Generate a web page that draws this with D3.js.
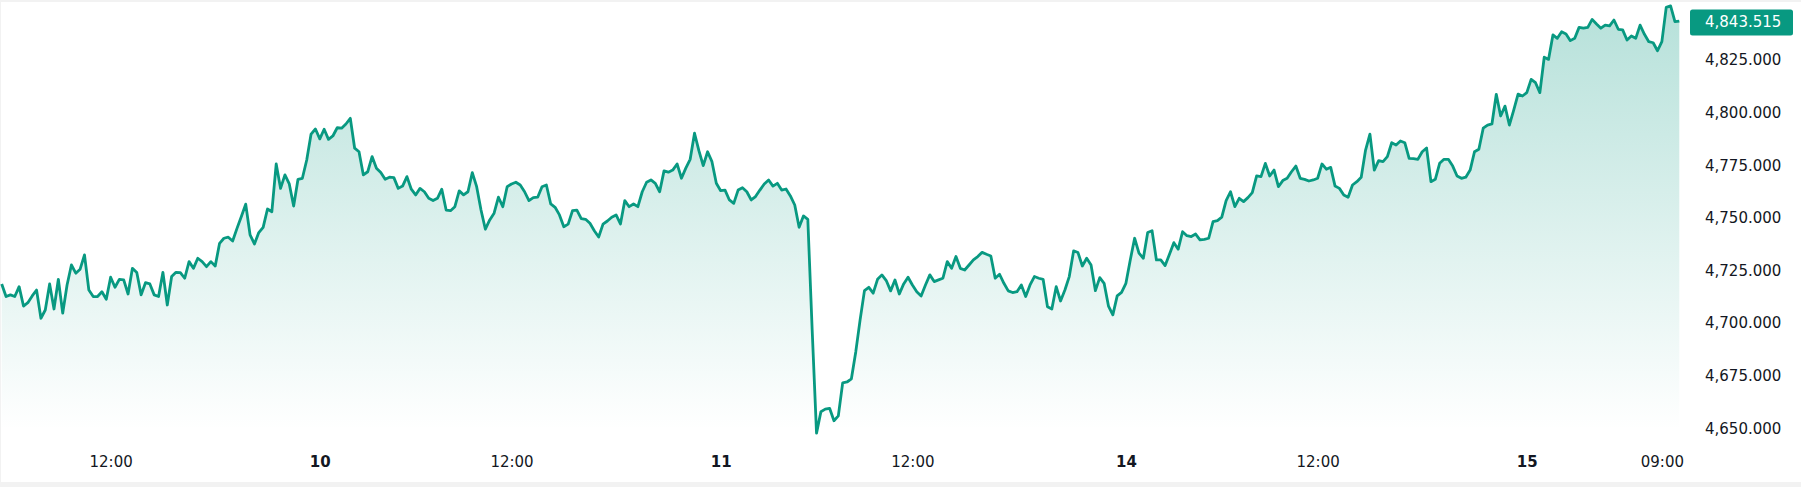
<!DOCTYPE html>
<html>
<head>
<meta charset="utf-8">
<script src="https://cdn.jsdelivr.net/npm/d3@7"></script>
<style>
    body { margin: 0; background: #f2f2f2; }
    svg { display: block; }
</style>
</head>
<body>
<div id="chart"></div>
<script>
// index level, one value per bar
var values = [
    // 9th (afternoon part)
    4718.6, 4712.6, 4713.4, 4712.6, 4717.3, 4708.1, 4709.7, 4712.9, 4715.7, 4702.3, 4706.2, 4718.6,
    4706.7, 4720.8, 4704.7, 4718.1, 4727.6, 4723.7, 4725.6, 4732.4, 4715.7, 4712.6, 4712.6, 4714.9,
    4711.3, 4721.8, 4717.0, 4720.8, 4720.5, 4713.8, 4726.0, 4724.0, 4713.4, 4719.2, 4718.6, 4713.4,
    4712.6, 4724.1, 4708.6, 4722.1, 4724.1, 4724.0, 4721.3, 4729.2, 4726.0, 4730.8, 4729.2, 4726.8,
    4729.2, 4727.1, 4737.9, 4740.3, 4740.8, 4739.0, 4745.0, 4750.6, 4756.5, 4741.9, 4737.6, 4743.0,
    4745.5, 4754.2, 4752.9, 4775.6, 4764.0, 4770.4, 4766.1, 4755.6, 4768.3, 4768.8, 4777.5, 4789.8,
    // 10th
    4792.2, 4787.5, 4792.1, 4787.3, 4788.9, 4792.8, 4792.6, 4794.6, 4797.3, 4783.1, 4781.4, 4770.4,
    4771.9, 4779.1, 4773.6, 4771.5, 4768.3, 4769.3, 4769.1, 4764.0, 4765.1, 4769.6, 4763.6, 4760.9,
    4764.0, 4762.4, 4759.3, 4758.2, 4759.3, 4763.6, 4753.7, 4753.4, 4755.3, 4762.8, 4760.9, 4762.4,
    4771.5, 4764.8, 4753.7, 4744.6, 4749.0, 4752.2, 4759.8, 4755.3, 4764.8, 4766.1, 4766.9, 4765.6,
    4762.4, 4758.2, 4759.6, 4759.8, 4764.8, 4765.6, 4756.6, 4755.0, 4751.4, 4745.8, 4747.0, 4753.4,
    4753.7, 4749.6, 4749.3, 4747.4, 4743.9, 4740.9, 4747.0, 4748.5, 4750.3, 4751.4, 4747.1, 4758.2,
    4755.3, 4756.6, 4755.3, 4762.4, 4766.9, 4768.0, 4766.4, 4762.4, 4772.3, 4771.7, 4772.7, 4775.6,
    4768.8, 4773.6, 4777.8, 4790.2, 4781.9, 4774.8, 4781.4, 4776.7, 4766.4,
    // 11th
    4762.9, 4763.2, 4758.5, 4756.9, 4763.2, 4764.3, 4762.4, 4758.5, 4760.1, 4763.2, 4766.1, 4768.0,
    4765.1, 4766.4, 4763.2, 4763.7, 4760.4, 4756.1, 4745.5, 4750.9, 4749.3, 4696.7, 4647.7, 4657.9,
    4659.1, 4659.5, 4653.6, 4655.9, 4671.6, 4672.0, 4673.5, 4686.3, 4701.5, 4715.4, 4717.0, 4714.2,
    4720.8, 4722.9, 4720.2, 4715.3, 4720.5, 4713.8, 4718.6, 4721.8, 4718.1, 4714.9, 4712.9, 4718.1,
    4722.9, 4719.7, 4720.5, 4721.3, 4729.2, 4726.0, 4731.6, 4726.0, 4725.2, 4727.6, 4730.0, 4731.6,
    4733.6, 4732.7, 4731.9, 4721.3, 4723.2, 4718.9, 4715.3, 4714.5, 4714.9, 4718.1, 4712.6, 4718.1,
    4722.1, 4721.3, 4720.8, 4707.8, 4706.7, 4717.3, 4710.5, 4715.7, 4722.1, 4734.3, 4733.5, 4727.1,
    4730.8, 4727.6, 4715.4, 4721.6, 4718.9, 4708.1, 4703.9, 4712.9, 4714.6, 4718.9,
    // 14th
    4730.0, 4740.3, 4733.2, 4730.8, 4743.0, 4743.9, 4730.0, 4730.0, 4727.3, 4732.7, 4738.2, 4735.1,
    4743.4, 4741.5, 4741.1, 4742.3, 4739.5, 4739.8, 4740.3, 4748.2, 4748.7, 4750.3, 4758.2, 4762.4,
    4755.3, 4759.3, 4757.7, 4759.6, 4762.0, 4769.9, 4769.6, 4775.9, 4769.9, 4772.7, 4764.8, 4767.7,
    4768.8, 4771.9, 4774.6, 4768.8, 4768.3, 4767.5, 4768.0, 4768.8, 4775.6, 4773.1, 4774.0, 4765.1,
    4764.0, 4760.9, 4759.8, 4765.6, 4767.2, 4769.3, 4782.2, 4789.8, 4772.7, 4777.2, 4776.7, 4779.1,
    4785.7, 4784.6, 4786.5, 4785.7, 4778.3, 4778.1, 4777.8, 4781.4, 4783.2, 4767.2, 4768.3, 4775.9,
    4777.8, 4777.8, 4774.6, 4769.9, 4768.8, 4769.3, 4772.7, 4781.4, 4782.6, 4792.6, 4794.1, 4794.6,
    4808.7, 4798.4, 4803.1, 4794.1, 4801.2, 4808.8, 4807.9, 4809.5,
    // 15th
    4815.8, 4814.2, 4809.5, 4826.3, 4825.3, 4836.9, 4835.3, 4838.4, 4837.4, 4834.2, 4835.3, 4840.5,
    4840.1, 4840.5, 4844.3, 4842.1, 4840.1, 4841.6, 4841.2, 4844.0, 4839.6, 4839.3, 4834.5, 4836.4,
    4835.3, 4841.6, 4837.2, 4833.7, 4833.2, 4829.4, 4833.7, 4850.0, 4850.7, 4843.2, 4843.515
];

// time axis: bar index where each label sits
var xTickIndex = [25, 73, 117, 165, 209, 258, 302, 350, 381];
var xTickLabels = ["12:00", "10", "12:00", "11", "12:00", "14", "12:00", "15", "09:00"];

// price axis
var yTicks = [4650, 4675, 4700, 4725, 4750, 4775, 4800, 4825];

function draw() {
    var w = 1801;
    var h = 487;
    var green = "#089981";
    var font = "'DejaVu Sans', Verdana, sans-serif";
    var plotRight = 1680;
    var plotBottom = 445;

    var svg = d3.select("#chart")
        .append("svg")
        .attr("width", w)
        .attr("height", h);

    // grey page, white card
    svg.append("rect")
        .attr("width", w)
        .attr("height", h)
        .attr("fill", "#f2f2f2");
    svg.append("rect")
        .attr("x", 1)
        .attr("y", 2)
        .attr("width", w - 1)
        .attr("height", 480)
        .attr("fill", "#ffffff");

    var x = d3.scaleLinear()
        .domain([0, values.length - 1])
        .range([1.7, plotRight - 0.7]);

    var y = d3.scaleLinear()
        .domain([4650, 4825])
        .range([428.3, 60]);

    // soft fill under the line
    var grad = svg.append("defs")
        .append("linearGradient")
        .attr("id", "fade")
        .attr("gradientUnits", "userSpaceOnUse")
        .attr("x1", 0).attr("y1", 0)
        .attr("x2", 0).attr("y2", 430);
    grad.append("stop").attr("offset", 0).attr("stop-color", green).attr("stop-opacity", 0.3);
    grad.append("stop").attr("offset", 1).attr("stop-color", green).attr("stop-opacity", 0);

    var area = d3.area()
        .x(function(d, i) { return x(i); })
        .y0(plotBottom)
        .y1(function(d) { return y(d); });

    var line = d3.line()
        .x(function(d, i) { return x(i); })
        .y(function(d) { return y(d); });

    svg.append("path")
        .datum(values)
        .attr("d", area)
        .attr("fill", "url(#fade)");

    svg.append("path")
        .datum(values)
        .attr("d", line)
        .attr("fill", "none")
        .attr("stroke", green)
        .attr("stroke-width", 2.8)
        .attr("stroke-linejoin", "round");

    // bottom time labels
    var xAxis = svg.append("g")
        .attr("transform", "translate(0," + 450 + ")")
        .call(d3.axisBottom(x)
            .tickValues(xTickIndex)
            .tickFormat(function(d, i) { return xTickLabels[i]; })
            .tickSize(0)
            .tickPadding(6));
    xAxis.select(".domain").remove();
    xAxis.selectAll("text")
        .attr("font-family", font)
        .attr("font-size", "15px")
        .attr("fill", "#131722")
        .attr("font-weight", function(d, i) {
            return xTickLabels[i].indexOf(":") < 0 ? "bold" : "normal";
        });

    // right price labels
    var yAxis = svg.append("g")
        .attr("transform", "translate(" + 1690 + ",0)")
        .call(d3.axisRight(y)
            .tickValues(yTicks)
            .tickFormat(d3.format(",.3f"))
            .tickSize(0)
            .tickPadding(15));
    yAxis.select(".domain").remove();
    yAxis.selectAll("text")
        .attr("font-family", font)
        .attr("font-size", "15px")
        .attr("fill", "#131722");

    // last value tag
    var last = values[values.length - 1];
    var ly = y(last) + 1.5;
    svg.append("rect")
        .attr("x", 1690)
        .attr("y", ly - 13)
        .attr("width", 103)
        .attr("height", 26)
        .attr("rx", 2.5)
        .attr("fill", green);
    svg.append("text")
        .attr("x", 1705)
        .attr("y", ly)
        .attr("dy", "0.32em")
        .attr("font-family", font)
        .attr("font-size", "15px")
        .attr("fill", "#ffffff")
        .text(d3.format(",.3f")(last));
}

window.onload = draw;
</script>
</body>
</html>
